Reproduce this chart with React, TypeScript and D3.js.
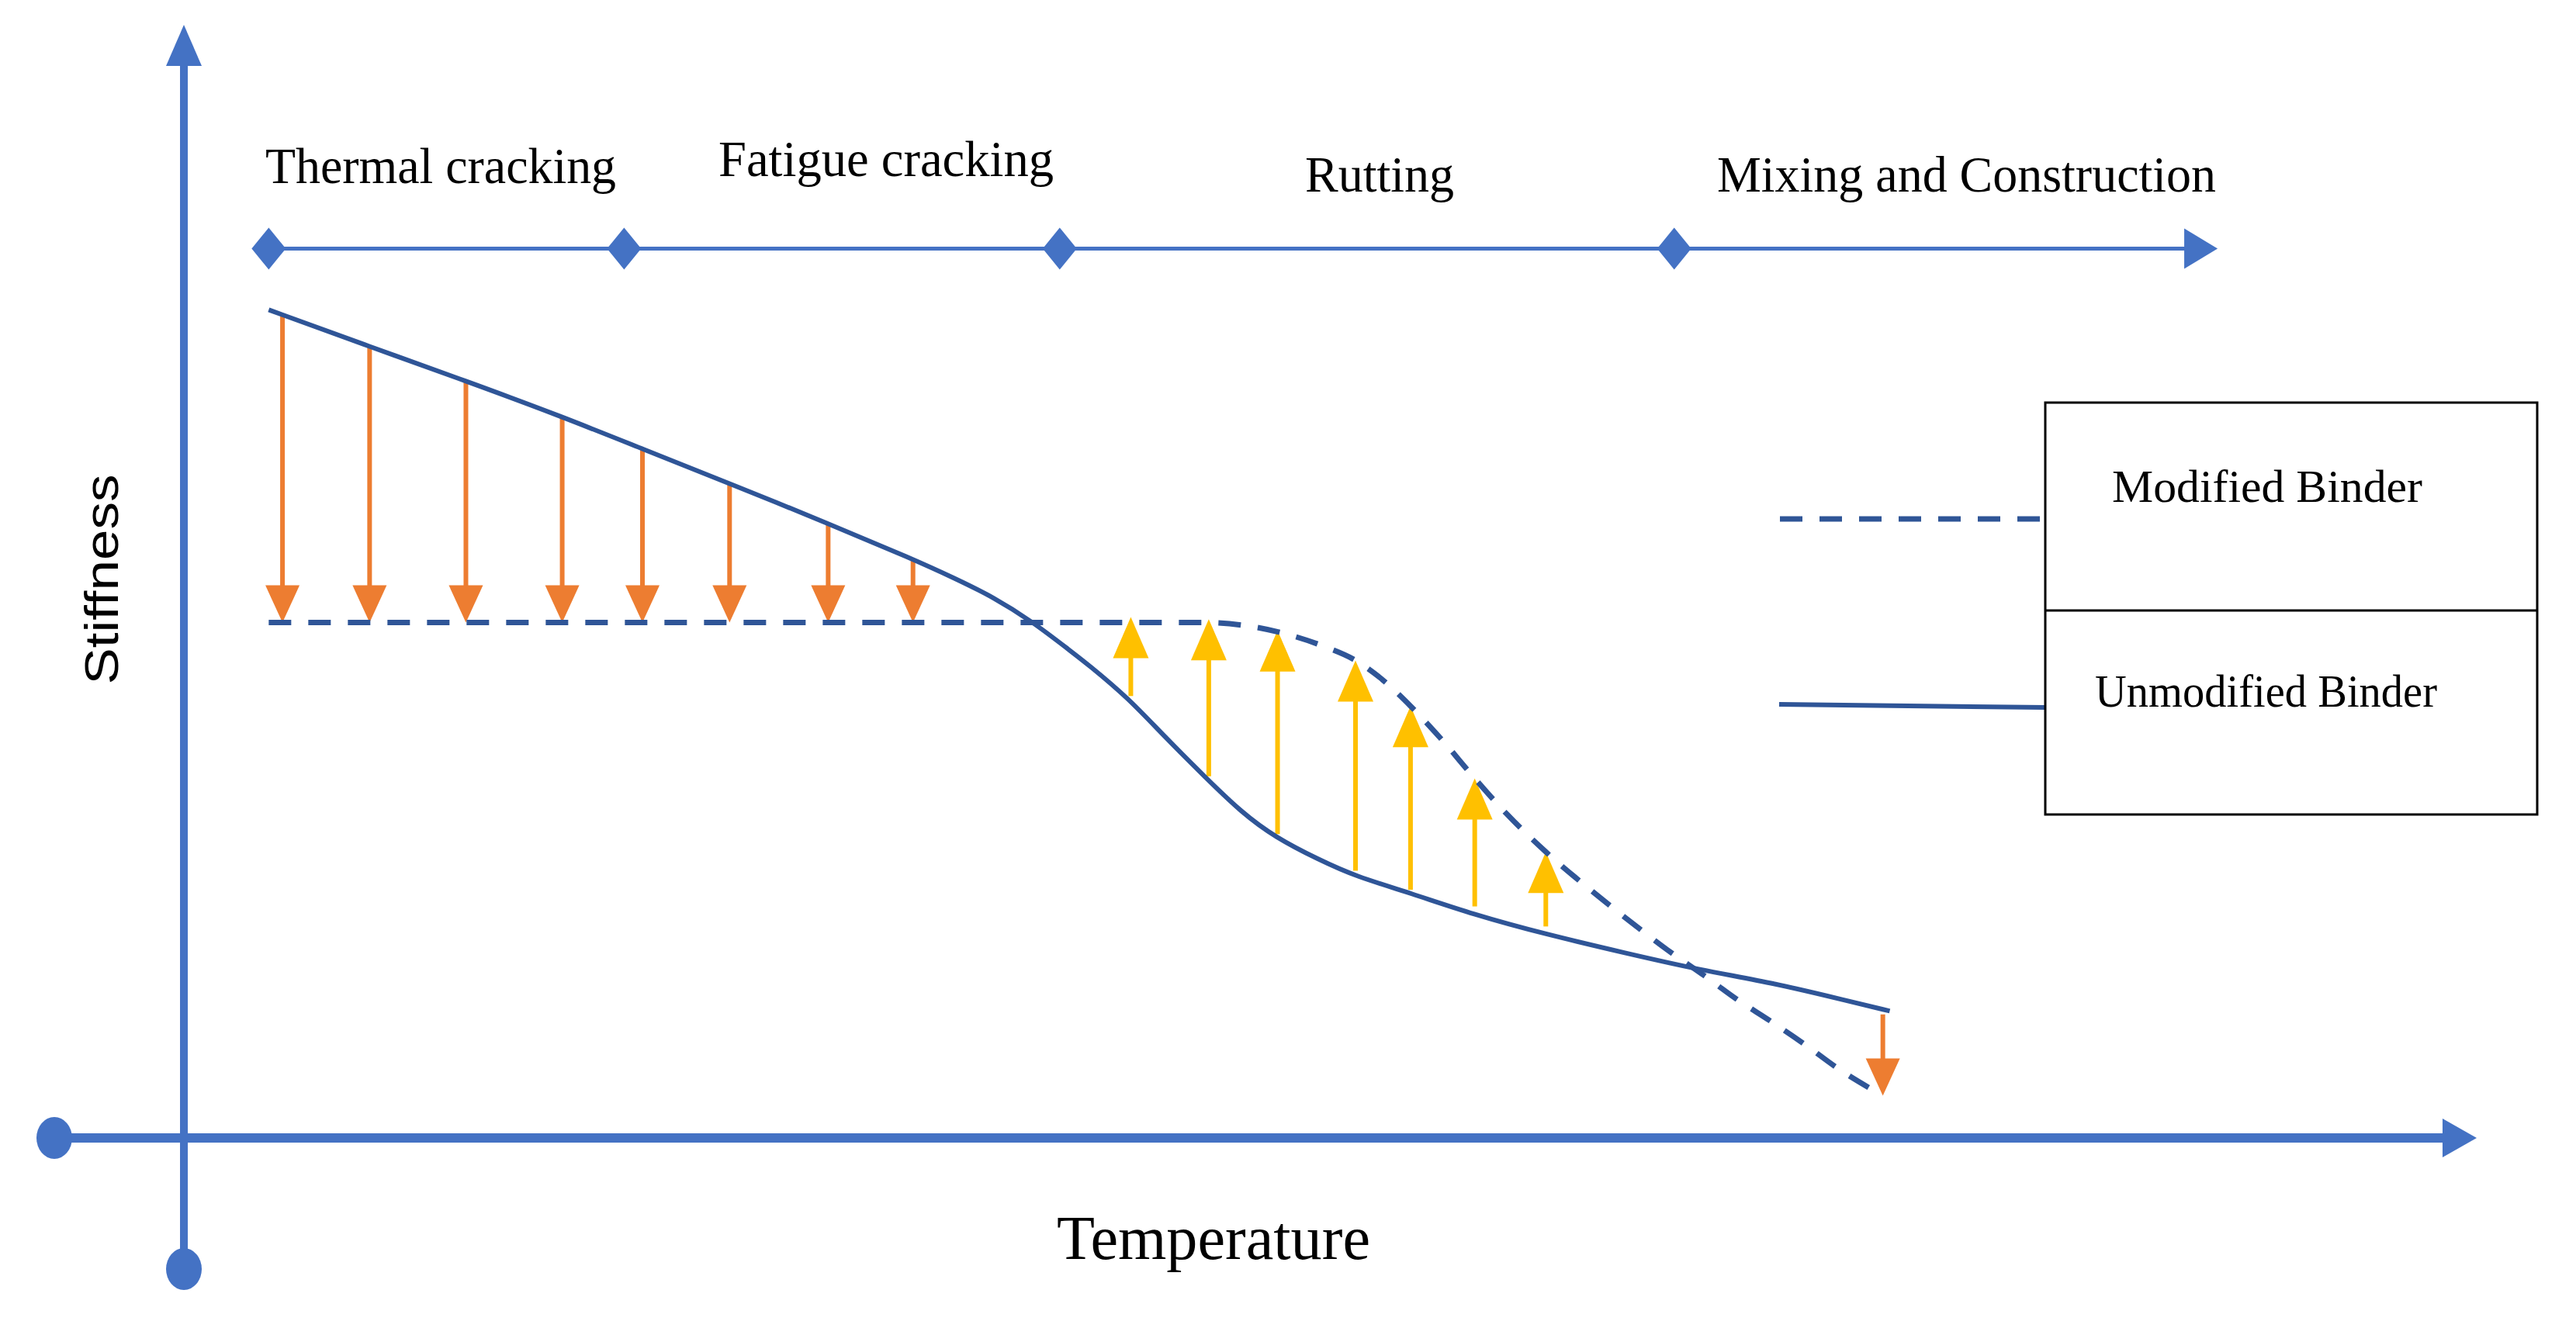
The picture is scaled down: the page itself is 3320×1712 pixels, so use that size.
import React from "react";
import * as d3 from "d3";

// ---- data (Temperature 0..100 along x, Stiffness 0..100 along y; schematic units) ----
const unmodifiedT = [3.7, 8.1, 12.3, 16.5, 20.0, 23.8, 28.1, 31.8, 33.6, 35.3, 37.0, 38.7, 39.4, 41.2, 42.7, 44.6, 46.1, 47.6, 49.5, 51.1, 53.5, 56.2, 59.4, 62.9, 66.1, 69.4, 72.6, 74.4];
const unmodifiedS = [74.4, 71.1, 68.0, 64.8, 61.9, 58.8, 55.2, 52.0, 50.3, 48.6, 46.4, 43.7, 42.6, 39.5, 36.2, 32.3, 29.3, 27.0, 25.0, 23.5, 22.0, 20.1, 18.3, 16.6, 15.1, 13.9, 12.3, 11.4];

const modifiedT = [3.7, 44.6, 46.4, 48.2, 49.8, 51.1, 52.2, 53.5, 54.9, 56.3, 57.7, 59.4, 61.4, 63.3, 64.7, 66.3, 67.7, 69.2, 70.7, 72.1, 74.1];
const modifiedS = [46.3, 46.3, 46.0, 45.2, 44.1, 42.9, 41.3, 38.8, 35.7, 32.3, 29.1, 25.7, 22.2, 19.1, 16.9, 14.6, 12.5, 10.5, 8.4, 6.3, 3.8];

// stiffness decrease arrows (orange): temperature, from, to
const downT = [4.3, 8.1, 12.3, 16.5, 20.0, 23.8, 28.1, 31.8, 74.1];
const downFrom = [73.9, 71.1, 68.0, 64.8, 61.9, 58.8, 55.2, 52.0, 11.1];
const downTo = [46.3, 46.3, 46.3, 46.3, 46.3, 46.3, 46.3, 46.3, 3.8];

// stiffness increase arrows (yellow)
const upT = [41.3, 44.7, 47.7, 51.1, 53.5, 56.3, 59.4];
const upFrom = [39.7, 32.5, 27.3, 24.0, 22.3, 20.8, 19.0];
const upTo = [46.8, 46.6, 45.6, 42.9, 38.8, 32.3, 25.7];

// performance phases along the temperature axis
const phaseLabels = ["Thermal cracking", "Fatigue cracking", "Rutting", "Mixing and Construction"];
const phaseBounds = [3.7, 19.2, 38.2, 65.0];
const phaseEnd = 88.7;
const phaseLevel = 79.9;

const legendLabels = ["Modified Binder", "Unmodified Binder"];
const xTitle = "Temperature";
const yTitle = "Stiffness";

// ---- styles ----
const AXIS = "#4472C4";
const CURVE = "#2F5597";
const ORANGE = "#ED7D31";
const YELLOW = "#FFC000";
const SERIF = "'Liberation Serif', 'Times New Roman', serif";
const SANS = "'Liberation Sans', Arial, sans-serif";

function VArrow({ cx, y0, y1, color, hw, hl, sw }) {
  const dir = y1 > y0 ? 1 : -1;
  const base = y1 - dir * hl;
  return (
    <g>
      <line x1={cx} y1={y0} x2={cx} y2={base + dir * 2} stroke={color} strokeWidth={sw} />
      <polygon points={`${cx},${y1} ${cx - hw},${base} ${cx + hw},${base}`} fill={color} />
    </g>
  );
}

export default function App() {
  const W = 3320, H = 1712;
  const x = d3.scaleLinear().domain([0, 100]).range([237, 3192]);
  const y = d3.scaleLinear().domain([0, 100]).range([1467, 32]);

  const solidLine = d3.line<[number, number]>()
    .x((d) => x(d[0]))
    .y((d) => y(d[1]))
    .curve(d3.curveBasis);
  const dashLine = d3.line<[number, number]>()
    .x((d) => x(d[0]))
    .y((d) => y(d[1]))
    .curve(d3.curveMonotoneX);

  const unmod = unmodifiedT.map((t, i) => [t, unmodifiedS[i]] as [number, number]);
  const mod = modifiedT.map((t, i) => [t, modifiedS[i]] as [number, number]);

  const x0 = x(0), y0 = y(0);
  const tlY = y(phaseLevel);

  const labelPos = [
    { x: 342, y: 236, len: 452 },
    { x: 926, y: 227, len: 432 },
    { x: 1682, y: 247, len: 192 },
    { x: 2213, y: 247, len: 643 },
  ];

  return (
    <svg width={W} height={H} viewBox={`0 0 ${W} ${H}`} style={{ position: "absolute", left: 0, top: 0, background: "#fff" }}>
      <rect x={0} y={0} width={W} height={H} fill="#fff" />

      {/* axes */}
      <line x1={x0} y1={1636} x2={x0} y2={y(100) + 50} stroke={AXIS} strokeWidth={10} />
      <polygon points={`${x0},${y(100)} ${x0 - 23},${y(100) + 53} ${x0 + 23},${y(100) + 53}`} fill={AXIS} />
      <ellipse cx={x0} cy={1636} rx={23} ry={27} fill={AXIS} />

      <line x1={70} y1={y0} x2={x(100) - 40} y2={y0} stroke={AXIS} strokeWidth={12} />
      <polygon points={`${x(100)},${y0} ${x(100) - 44},${y0 - 25} ${x(100) - 44},${y0 + 25}`} fill={AXIS} />
      <ellipse cx={70} cy={y0} rx={23} ry={27} fill={AXIS} />

      {/* phase timeline */}
      <line x1={x(phaseBounds[0])} y1={tlY} x2={x(phaseEnd) - 40} y2={tlY} stroke={AXIS} strokeWidth={5} />
      <polygon points={`${x(phaseEnd)},${tlY} ${x(phaseEnd) - 43},${tlY - 26} ${x(phaseEnd) - 43},${tlY + 26}`} fill={AXIS} />
      {phaseBounds.map((b, i) => (
        <polygon key={i}
          points={`${x(b)},${tlY - 27} ${x(b) + 22},${tlY} ${x(b)},${tlY + 27} ${x(b) - 22},${tlY}`}
          fill={AXIS} />
      ))}
      {phaseLabels.map((l, i) => (
        <text key={l} x={labelPos[i].x} y={labelPos[i].y} fontFamily={SERIF} fontSize={66}
          textLength={labelPos[i].len} lengthAdjust="spacingAndGlyphs" fill="#000">{l}</text>
      ))}

      {/* orange arrows (down) */}
      {downT.map((t, i) => (
        <VArrow key={"d" + i} cx={x(t)} y0={y(downFrom[i])} y1={y(downTo[i])} color={ORANGE} hw={22} hl={48} sw={6} />
      ))}
      {/* yellow arrows (up) */}
      {upT.map((t, i) => (
        <VArrow key={"u" + i} cx={x(t)} y0={y(upFrom[i])} y1={y(upTo[i])} color={YELLOW} hw={23} hl={53} sw={6} />
      ))}

      {/* curves */}
      <path d={dashLine(mod) || ""} fill="none" stroke={CURVE} strokeWidth={7} strokeDasharray="29 22" />
      <path d={solidLine(unmod) || ""} fill="none" stroke={CURVE} strokeWidth={6} />

      {/* legend */}
      <line x1={2294} y1={669} x2={2632} y2={669} stroke={CURVE} strokeWidth={7} strokeDasharray="29 22" />
      <line x1={2293} y1={908} x2={2636} y2={912} stroke={CURVE} strokeWidth={6} />
      <rect x={2636} y={519} width={634} height={531} fill="none" stroke="#000" strokeWidth={3} />
      <line x1={2636} y1={787} x2={3270} y2={787} stroke="#000" strokeWidth={3} />
      <text x={2722} y={647} fontFamily={SERIF} fontSize={60} textLength={400} lengthAdjust="spacingAndGlyphs">{legendLabels[0]}</text>
      <text x={2700} y={911} fontFamily={SERIF} fontSize={60} textLength={441} lengthAdjust="spacingAndGlyphs">{legendLabels[1]}</text>

      {/* axis titles */}
      <text x={1362} y={1623} fontFamily={SERIF} fontSize={80} textLength={404} lengthAdjust="spacingAndGlyphs">{xTitle}</text>
      <text transform="translate(152,747) rotate(-90)" textAnchor="middle" fontFamily={SANS} fontSize={62}
        textLength={271} lengthAdjust="spacingAndGlyphs">{yTitle}</text>
    </svg>
  );
}
